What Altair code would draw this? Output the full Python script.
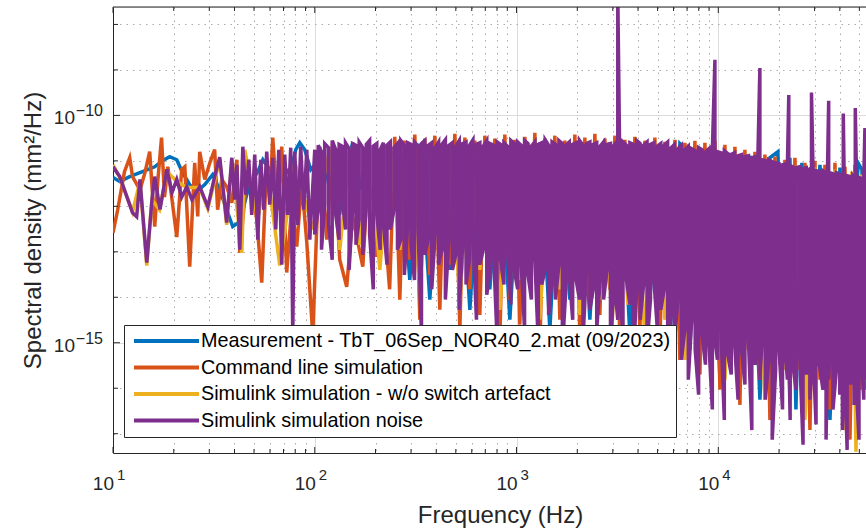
import altair as alt
import pandas as pd

# ---------------------------------------------------------------- series
SERIES = [
    "Measurement - TbT_06Sep_NOR40_2.mat (09/2023)",
    "Command line simulation",
    "Simulink simulation - w/o switch artefact",
    "Simulink simulation noise",
]
COLORS = ["#0072BD", "#D95319", "#EDB120", "#7E2F8E"]

# Measurement (Hz, mm^2/Hz)
BLUE_F = [10, 10.8, 12.1, 14.0, 16.1, 17.6, 19.1, 20.7, 22.0, 24.0,
          26.0, 28.5, 31.2, 33.8, 36.6, 39.2, 42.5, 46.0, 49.3, 52.2,
          55.3, 59.8, 64.8, 69.4, 75.2, 80.5, 84.3, 89.2, 95.5, 102.3,
          108.3, 114.7, 122.8, 133.1, 144.1, 154.3, 167.2, 179.0, 191.7, 205.3,
          219.9, 235.5,
          263.9, 295.8, 331.6, 371.7, 416.7, 467.1, 523.6, 587.0, 657.7, 737.3,
          826.5, 926.5, 1038.5, 1163.9, 1304.7, 1462.5, 1639.5, 1837.8, 2059.8, 2309.0,
          2588.3, 2901.4, 3252.3, 3645.3, 4086.1, 4580.3, 5134.3, 5755.2, 6449.8, 6907,
          7230.8, 7832, 8581.5, 9296, 10185, 11416, 12797, 14344, 16079, 18023,
          19740, 21140, 22646, 24250, 25970, 28455, 31896, 35754, 40078, 44924,
          49220, 51510, 53950, 57730]
BLUE_V = [4.3e-12, 3.5e-12, 4.5e-12, 5.8e-12, 7.4e-12, 1.01e-11, 1.24e-11, 1.06e-11, 5.8e-12, 3.0e-12,
          2.1e-12, 3.0e-12, 5.0e-12, 2.3e-12, 8.4e-13, 3.6e-13, 4.6e-13, 1.8e-12, 3.9e-12, 5.8e-12,
          1.06e-11, 6.4e-12, 3.0e-12, 8.2e-12, 5.0e-12, 1.76e-11, 2.51e-11, 1.76e-11, 6.4e-12, 9.1e-12,
          1.4e-12, 6.4e-12, 1.06e-11, 6.5e-13, 8.2e-12, 2.51e-11, 2.3e-12, 1.06e-11, 2.4e-13, 1.58e-13,
          1.4e-12, 1.06e-11,
          2.27e-11, 2.4e-14, 2.39e-11, 8.9e-15, 2.16e-11, 4.0e-14, 2.51e-11, 5.3e-15, 2.27e-11, 1.5e-14,
          2.39e-11, 3.2e-15, 2.16e-11, 2.4e-14, 2.51e-11, 1.94e-15, 2.27e-11, 8.9e-15, 2.39e-11, 3.2e-15,
          2.16e-11, 1.5e-14, 2.51e-11, 1.5e-15, 2.27e-11, 8.9e-15, 2.05e-11, 1.17e-15, 2.39e-11, 1.76e-11,
          7.0e-16, 1.85e-11, 1.94e-15, 1.59e-11, 1.54e-16, 1.51e-11, 7.0e-16, 1.30e-11, 5.6e-17, 1.17e-11,
          1.59e-11, 2.55e-16, 1.17e-11, 3.4e-17, 9.1e-12, 1.54e-16, 8.2e-12, 2.0e-17, 7.1e-12, 5.6e-17,
          9.1e-12, 6.4e-12, 9.3e-17, 6.4e-12]

# Command line simulation
ORANGE_F = [10, 10.55, 11.4, 12.1, 12.5, 13.6, 14.4, 15.2, 16.1, 16.7,
            17.4, 18.0, 18.7, 20.7, 21.9, 22.7, 24.0, 25.4, 26.3, 26.9,
            28.5, 30.2, 31.9, 33.0, 34.6, 36.6, 38.8, 41.1, 42.5, 46.0,
            49.3, 51.6, 54.6, 57.8, 59.8, 61.9, 65.5, 68.6, 72.6, 76.9,
            81.4, 86.2, 91.3, 97.7, 105.9, 114.7, 122.8, 133, 144, 154,
            173, 187, 203, 217, 235,
            249.2, 263.9, 279.4, 295.8, 313.2, 331.6, 351.1, 371.7, 393.6, 416.7,
            441.2, 467.1, 494.6, 523.6, 554.4, 587.0, 621.4, 657.7, 696.4, 737.3,
            780.6, 826.5, 875.0, 926.5, 980.9, 1038.5, 1099.5, 1163.9, 1232.3, 1304.7,
            1381.4, 1462.5, 1548.5, 1639.5, 1735.8, 1837.8, 1945.7, 2059.8, 2180.9, 2309.0,
            2444.7, 2588.3, 2740.4, 2901.4, 3071.8, 3252.3, 3443.5, 3645.3, 3859.4, 4086.1,
            4326.1, 4580.3, 4849.4, 5134.3, 5436.0, 5755.2, 6093.4, 6449.8, 6829.3, 7230.8,
            7655.7, 8105.3, 8581.5, 9085.6, 9619.5, 10185, 10783, 11416, 12086, 12797,
            13548, 14344, 15187, 16079, 17023, 18023, 19082, 20203, 21390, 22646,
            23976, 25385, 26876, 28455, 30126, 31896, 33770, 35754, 37854, 40078,
            42432, 44924, 47563, 50357, 53315, 56447]
ORANGE_V = [2.6e-13, 8.4e-13, 5.8e-12, 1.17e-11, 4.5e-12, 2.3e-12, 5.5e-12, 1.59e-11, 3.6e-13, 3.9e-12,
            3.24e-11, 1.6e-12, 7.4e-12, 2.1e-13, 6.4e-12, 7.4e-12, 4.7e-14, 9.1e-12, 6.0e-13, 1.59e-11,
            3.9e-12, 9.1e-12, 1.76e-11, 8.4e-13, 3.9e-12, 2.7e-12, 1.2e-12, 1.06e-11, 9.5e-14, 4.5e-12,
            2e-12, 5.1e-13, 2.1e-14, 1.06e-11, 1.4e-12, 3.24e-11, 8.4e-13, 2.05e-11, 3.5e-14, 1e-12,
            1.3e-13, 3.3e-12, 1.6e-13, 1.5e-15, 2.05e-11, 1.85e-13, 2.64e-11, 6.7e-14, 1.7e-14, 6e-13,
            4.7e-14, 1.76e-11, 7.7e-14, 1.4e-12, 1.5e-14,
            3.4e-11, 8.9e-15, 2.78e-11, 6.7e-14, 3.77e-11, 3.2e-15, 3.08e-11, 3.1e-14, 3.58e-11, 5.3e-15,
            2.92e-11, 5.2e-14, 3.95e-11, 1.94e-15, 3.24e-11, 1.5e-14, 2.78e-11, 4.1e-15, 3.58e-11, 4.0e-14,
            3.08e-11, 1.17e-15, 3.77e-11, 8.9e-15, 2.92e-11, 2.5e-15, 3.4e-11, 1.9e-14, 4.16e-11, 7.0e-16,
            3.08e-11, 1.14e-14, 3.58e-11, 3.2e-15, 2.78e-11, 2.4e-14, 3.77e-11, 1.5e-15, 3.24e-11, 8.9e-15,
            3.95e-11, 4.1e-15, 3.08e-11, 1.5e-14, 3.58e-11, 1.17e-15, 2.92e-11, 6.9e-15, 3.4e-11, 1.94e-15,
            2.78e-11, 1.14e-14, 3.24e-11, 9.1e-16, 2.64e-11, 5.3e-15, 2.92e-11, 4.2e-16, 2.51e-11, 1.94e-15,
            2.78e-11, 2.0e-16, 2.51e-11, 1.17e-15, 2.78e-11, 9.3e-17, 2.27e-11, 7.0e-16, 2.05e-11, 4.3e-17,
            1.76e-11, 4.2e-16, 1.59e-11, 1.54e-16, 1.37e-11, 2.0e-17, 1.24e-11, 3.3e-16, 1.06e-11, 5.6e-17,
            1.17e-11, 2.55e-16, 9.1e-12, 1.2e-17, 1.01e-11, 1.54e-16, 8.2e-12, 3.4e-17, 9.1e-12, 2.0e-16,
            7.4e-12, 7.4e-18, 8.2e-12, 9.3e-17, 7.1e-12, 5.6e-17]

# Simulink simulation without the switch artefact
YELLOW_F = [10, 10.8, 12.5, 13.6, 14.7, 15.6, 17.0, 18.5, 20.7, 23.2,
            26.9, 29.5, 33.8, 36.6, 38.8, 43.5, 45.0, 52.2, 57.8, 67.1,
            79.6, 97.7,
            118.7, 133.1, 149.1, 167.2, 187.4, 210.1, 235.5, 263.9, 295.8, 331.6,
            371.7, 416.7, 467.1, 523.6, 587.0, 657.7, 737.3, 826.5, 926.5, 1038.5,
            1163.9, 1304.7, 1462.5, 1639.5, 1837.8, 2059.8, 2309.0, 2588.3, 2740.4, 2969,
            3252.3, 3562, 3859.4, 4326.1, 4849.4, 5436, 6093.4, 6829.3, 7655.7, 8581.5,
            9619.5, 10783, 12086, 13548, 15187, 17023, 19082, 21390, 23976, 26876,
            30126, 33770, 37854, 42432, 45950, 48120, 51510, 55160]
YELLOW_V = [8.2e-12, 4.3e-12, 7.6e-13, 3.5e-12, 5.0e-14, 1.4e-12, 8.4e-13, 5.8e-12, 3.5e-12, 2.6e-12,
            2.6e-12, 8.9e-13, 1.06e-11, 3.9e-13, 1.06e-11, 9.5e-14, 1.76e-11, 5.1e-13, 7.1e-12, 5.0e-14,
            9.6e-12, 3.1e-13,
            1.76e-11, 1.11e-13, 1.95e-11, 1.43e-13, 2.05e-11, 4.0e-14, 2.16e-11, 1.11e-13, 2.27e-11, 1.5e-14,
            2.16e-11, 6.7e-14, 2.27e-11, 8.9e-15, 2.16e-11, 4.0e-14, 2.27e-11, 5.3e-15, 2.16e-11, 2.4e-14,
            2.27e-11, 3.2e-15, 2.16e-11, 1.5e-14, 2.27e-11, 4.1e-15, 2.16e-11, 8.9e-15, 2.05e-11, 1.94e-15,
            2.16e-11, 6.9e-15, 2.05e-11, 1.17e-15, 2.16e-11, 3.2e-15, 1.95e-11, 4.2e-16, 1.76e-11, 9.1e-16,
            1.59e-11, 1.54e-16, 1.37e-11, 7.0e-16, 1.17e-11, 5.6e-17, 9.6e-12, 2.55e-16, 7.8e-12, 2.0e-17,
            7.1e-12, 1.54e-16, 6.4e-12, 1.2e-17, 5.8e-12, 4.0e-18, 5.0e-12, 5.6e-17]

# Simulink simulation noise: sparse low-frequency part ...
PURPLE_LF_F = [10, 10.8, 12.5, 13.1, 13.6, 14.7, 15.6, 16.1, 17.1, 18.5,
               19.6, 20.7, 21.9, 23.2, 24.6, 26.9, 29.5, 31.9, 33.8, 36.6,
               38.8, 40.1, 41.1, 42.5, 44.0, 45.5, 47.1, 48.7, 50.4, 52.2,
               54.0, 55.9, 57.8, 59.8, 61.9, 64.1, 66.3, 68.6, 71.0, 73.5,
               76.0, 77.8, 79.6, 82.4, 85.2, 88.2, 91.3, 94.5]
PURPLE_LF_V = [7.4e-12, 4.5e-12, 7.2e-13, 5.9e-13, 3.9e-12, 5.8e-14, 1.4e-12, 4.5e-12, 8.5e-13, 6.5e-12,
               2e-12, 3.9e-12, 1.6e-12, 2.7e-12, 1.4e-12, 2.7e-12, 9.8e-13, 4.5e-12, 1.2e-11, 4.4e-13,
               1.17e-11, 1.4e-12, 8.2e-12, 1.11e-13, 2.05e-11, 1.8e-12, 1.06e-11, 6.5e-13, 1.37e-11, 1.85e-13,
               1.06e-11, 8.4e-13, 1.59e-11, 1.09e-12, 1.17e-11, 3.1e-13, 1.76e-11, 5.2e-14, 1.37e-11, 6.5e-13,
               1.95e-11, 1.5e-15, 1.59e-11, 3.9e-13, 2.05e-11, 8.4e-13, 1.76e-11, 1.85e-13]

# ... and dense part above 100 Hz, given as max / min per frequency bin
HF_FREQ = [100, 104, 108, 112, 117, 122, 127, 132, 137, 142,
           148, 154, 160, 166, 173, 180, 187, 195, 203, 211,
           219, 228, 237, 247, 257, 267, 278, 289, 300, 312,
           325, 338, 351, 365, 380, 395, 411, 427, 444, 462,
           481, 500, 520, 541, 562, 585, 608, 633, 658, 684,
           712, 740, 770, 801, 833, 866, 901, 937, 974, 1013,
           1054, 1096, 1140, 1185, 1233, 1282, 1333, 1387, 1442, 1500,
           1560, 1622, 1687, 1755, 1825, 1898, 1974, 2053, 2135, 2220,
           2309, 2401, 2497, 2597, 2701, 2809, 2921, 3038, 3110, 3175,
           3240, 3370, 3505, 3645, 3790, 3942, 4100, 4264, 4434, 4612,
           4796, 4988, 5188, 5395, 5611, 5836, 6069, 6312, 6564, 6827,
           7100, 7384, 7680, 7987, 8306, 8638, 8984, 9343, 9620, 9900,
           10300, 10710, 11140, 11590, 12050, 12530, 13030, 13550, 14100, 14660,
           15250, 15700, 16070, 16450, 17100, 17790, 18500, 19240, 20010, 20810,
           21640, 22000, 22350, 22700, 23400, 24300, 25300, 26300, 27300, 28000,
           28450, 28960, 29470, 30500, 31700, 33000, 34200, 34750, 35240, 35750,
           37000, 38500, 40000, 40800, 41200, 41620, 42050, 43500, 45200, 46400,
           47100, 47740, 48400, 49800, 51300, 52600, 53300, 54000, 55500]
PURPLE_MAX = [1.76e-11, 2.2e-11, 1.59e-11, 2.4e-11, 1.95e-11, 2.8e-11, 1.76e-11, 2.3e-11, 2.1e-11, 2.5e-11,
              1.85e-11, 2.4e-11, 2.2e-11, 2.6e-11, 1.95e-11, 2.3e-11, 2.8e-11, 2.1e-11, 2.4e-11, 1.76e-11,
              2.5e-11, 2.2e-11, 2.6e-11, 1.95e-11, 2.4e-11, 2.8e-11, 2.2e-11, 2.5e-11, 2.3e-11, 2.6e-11,
              2.1e-11, 2.4e-11, 2.8e-11, 2.2e-11, 2.5e-11, 1.95e-11, 2.6e-11, 2.3e-11, 2.9e-11, 2.2e-11,
              2.5e-11, 2.1e-11, 2.8e-11, 2.4e-11, 2.6e-11, 2.2e-11, 2.9e-11, 2.3e-11, 2.5e-11, 2.1e-11,
              2.8e-11, 2.4e-11, 2.2e-11, 2.6e-11, 2.3e-11, 2.5e-11, 2.1e-11, 2.8e-11, 2.4e-11, 2.6e-11,
              2.2e-11, 2.8e-11, 2.4e-11, 2.1e-11, 2.6e-11, 2.3e-11, 2.5e-11, 2.9e-11, 2.2e-11, 2.6e-11,
              2.3e-11, 2.8e-11, 2.4e-11, 2.2e-11, 2.6e-11, 2.3e-11, 2.5e-11, 2.8e-11, 2.2e-11, 2.4e-11,
              2.6e-11, 2.3e-11, 2.5e-11, 2.1e-11, 2.6e-11, 2.3e-11, 2.4e-11, 2.2e-11, 2.5e-11, 5e-8,
              2.3e-11, 2.6e-11, 2.2e-11, 2.5e-11, 2.3e-11, 2.8e-11, 2.4e-11, 2.2e-11, 2.6e-11, 2.3e-11,
              2.5e-11, 2.1e-11, 2.4e-11, 2.2e-11, 2.6e-11, 1.95e-11, 2.3e-11, 1.85e-11, 2.2e-11, 1.76e-11,
              2.1e-11, 1.85e-11, 1.67e-11, 1.95e-11, 1.76e-11, 1.59e-11, 1.85e-11, 1.67e-11, 1.68e-9, 1.59e-11,
              1.51e-11, 1.67e-11, 1.44e-11, 1.37e-11, 1.51e-11, 1.30e-11, 1.37e-11, 1.24e-11, 1.30e-11, 1.17e-11,
              1.24e-11, 1.12e-11, 1.1e-9, 1.06e-11, 1.01e-11, 1.06e-11, 9.6e-12, 9.1e-12, 8.7e-12, 8.2e-12,
              8.7e-12, 7.8e-12, 2.8e-10, 7.8e-12, 7.4e-12, 7.1e-12, 7.4e-12, 6.7e-12, 7.1e-12, 6.4e-12,
              6.7e-12, 3.2e-10, 6.4e-12, 6.1e-12, 5.8e-12, 6.1e-12, 5.5e-12, 5.8e-12, 2.1e-10, 5.5e-12,
              5.2e-12, 5.5e-12, 5.0e-12, 5.2e-12, 4.7e-12, 1.1e-10, 5.0e-12, 4.7e-12, 4.5e-12, 4.7e-12,
              4.3e-12, 1.45e-10, 4.5e-12, 4.3e-12, 4.1e-12, 4.3e-12, 5.3e-11, 4.1e-12, 3.9e-12]
PURPLE_MIN = [2.4e-13, 8.4e-13, 1.11e-13, 1.1e-12, 3.9e-13, 6.7e-14, 6.5e-13, 1.85e-13, 1.4e-12, 3.1e-13,
              4.0e-14, 8.4e-13, 1.43e-13, 5.1e-13, 8.6e-14, 1.1e-12, 2.4e-13, 1.5e-14, 6.5e-13, 1.11e-13,
              3.9e-13, 5.2e-14, 3.1e-13, 8.4e-13, 1.11e-13, 1.85e-13, 3.1e-14, 3.9e-13, 1.43e-13, 2.4e-14,
              3.1e-13, 1.5e-15, 8.6e-14, 1.85e-13, 1.5e-14, 2.4e-13, 5.2e-14, 1.11e-13, 8.9e-15, 1.85e-13,
              4.0e-14, 8.6e-14, 5.3e-15, 1.43e-13, 1.9e-14, 6.7e-14, 1.85e-13, 3.2e-15, 5.2e-14, 1.11e-13,
              1.14e-14, 4.0e-14, 8.6e-14, 1.17e-15, 6.7e-14, 1.9e-14, 1.11e-13, 6.9e-15, 4.0e-14, 1.5e-14,
              5.2e-14, 1.94e-15, 3.1e-14, 8.9e-15, 6.7e-14, 9.1e-16, 1.9e-14, 4.0e-14, 4.1e-15, 2.4e-14,
              8.9e-15, 5.2e-14, 7.0e-16, 1.5e-14, 3.1e-14, 3.2e-15, 2.4e-14, 8.9e-15, 1.17e-15, 4.0e-14,
              5.3e-15, 1.5e-14, 1.94e-15, 2.4e-14, 8.9e-15, 4.0e-14, 7.0e-16, 1.9e-14, 8.9e-15, 3.2e-15,
              1.5e-14, 1.5e-15, 2.4e-14, 6.9e-15, 4.2e-16, 1.5e-14, 3.2e-15, 1.9e-14, 9.1e-16, 8.9e-15,
              2.4e-14, 1.94e-15, 5.3e-15, 1.5e-14, 2.55e-16, 4.1e-15, 1.17e-15, 8.9e-15, 4.2e-16, 1.94e-15,
              1.54e-16, 3.2e-15, 7.0e-16, 7.2e-17, 1.5e-15, 3.3e-16, 9.1e-16, 3.4e-17, 1.17e-15, 4.2e-16,
              1.94e-15, 2.0e-17, 5.5e-16, 2.0e-16, 9.1e-16, 5.6e-17, 7.0e-16, 1.2e-16, 1.17e-15, 1.2e-17,
              3.3e-16, 7.0e-16, 1.54e-16, 9.1e-16, 5.6e-17, 4.2e-16, 7.4e-18, 2.55e-16, 7.0e-16, 3.4e-17,
              4.2e-16, 1.54e-16, 7.0e-16, 2.0e-17, 3.3e-16, 9.3e-17, 5.5e-16, 5.7e-18, 2.0e-16, 4.2e-16,
              5.6e-17, 2.55e-16, 7.0e-16, 1.6e-17, 3.3e-16, 9.3e-17, 7.4e-18, 4.2e-16, 1.54e-16, 5.5e-16,
              3.4e-17, 2.55e-16, 7.2e-17, 4.2e-16, 1.2e-17, 2.0e-16, 5.5e-16, 4.4e-18, 1.2e-16, 3.3e-16,
              4.3e-17, 2.55e-16, 9.3e-17, 7.4e-18, 4.2e-16, 5.6e-17, 1.54e-16, 3.3e-16, 2.0e-17]

# ---------------------------------------------------------------- axes
X_MAJOR = [10, 100, 1000, 10000]
X_MINOR = [20, 30, 40, 50, 60, 70, 80, 90,
           200, 300, 400, 500, 600, 700, 800, 900,
           2000, 3000, 4000, 5000, 6000, 7000, 8000, 9000,
           20000, 30000, 40000, 50000]
Y_MAJOR = [1e-15, 1e-10]
Y_MINOR = [1e-17, 1e-16, 1e-14, 1e-13, 1e-12, 1e-11, 1e-9, 1e-8]

X_DOMAIN = [10, 53950]
Y_DOMAIN = [3.76e-18, 2.42e-8]

W, H = 753, 446
INK = "#262626"
FONT = "Liberation Sans"


def frame(name, freqs, values):
    return pd.DataFrame({"series": name, "f": freqs, "v": values,
                         "i": list(range(len(freqs)))})


# the dense noise trace runs up and down through every bin
pf, pv = list(PURPLE_LF_F), list(PURPLE_LF_V)
for k, (f, hi, lo) in enumerate(zip(HF_FREQ, PURPLE_MAX, PURPLE_MIN)):
    pf += [f, f]
    pv += [hi, lo] if k % 2 == 0 else [lo, hi]

traces = [
    frame(SERIES[0], BLUE_F, BLUE_V),
    frame(SERIES[1], ORANGE_F, ORANGE_V),
    frame(SERIES[2], YELLOW_F, YELLOW_V),
    frame(SERIES[3], pf, pv),
]

GRID_MAJOR = "#dcdcdc"
GRID_MINOR = "#ababab"
x_major_test = "indexof([10,100,1000,10000], datum.value) >= 0"
y_major_test = "datum.value == 1e-10 || datum.value == 1e-15"

x_axis = alt.Axis(
    values=sorted(X_MAJOR + X_MINOR), labels=False,
    ticks=False, tickSize=0,
    domainColor=INK, domainWidth=1,
    grid=True, gridWidth=1,
    gridColor={"condition": {"test": x_major_test, "value": GRID_MAJOR}, "value": GRID_MINOR},
    gridDash={"condition": {"test": x_major_test, "value": []}, "value": [1.5, 5]},
    titleFont=FONT, titleFontSize=24, titleFontWeight="normal", titleColor=INK,
    titleX=387, titleY=69, titleAlign="center", titleBaseline="alphabetic",
)
y_axis = alt.Axis(
    values=sorted(Y_MAJOR + Y_MINOR), labels=False,
    ticks=False, tickSize=0,
    domainColor=INK, domainWidth=1,
    grid=True, gridWidth=1,
    gridColor={"condition": {"test": y_major_test, "value": GRID_MAJOR}, "value": GRID_MINOR},
    gridDash={"condition": {"test": y_major_test, "value": []}, "value": [1.5, 5]},
    titleFont=FONT, titleFontSize=24, titleFontWeight="normal", titleColor=INK,
    titleAngle=270, titleX=-80, titleY=H / 2, titleAlign="center", titleBaseline="middle",
)

X = alt.X("f:Q", scale=alt.Scale(type="log", domain=X_DOMAIN, nice=False),
          axis=x_axis, title="Frequency (Hz)")
Y = alt.Y("v:Q", scale=alt.Scale(type="log", domain=Y_DOMAIN, nice=False),
          axis=y_axis, title="Spectral density (mm²/Hz)")
COLOR = alt.Color(
    "series:N",
    scale=alt.Scale(domain=SERIES, range=COLORS),
    legend=alt.Legend(
        title=None, orient="none", legendX=11, legendY=318, direction="vertical",
        strokeColor=INK, fillColor="white", padding=5, cornerRadius=0,
        symbolType="stroke", symbolSize=4225, symbolStrokeWidth=4, symbolOffset=3,
        clipHeight=22, rowPadding=4.5,
        labelFont=FONT, labelFontSize=19.8, labelColor="black", labelOffset=0, labelLimit=0,
    ),
)

lines = [
    alt.Chart(df).mark_line(strokeWidth=3.5, clip=True).encode(
        x=X, y=Y, color=COLOR, order=alt.Order("i:Q"))
    for df in traces
]

# inward tick marks on the frame
xmaj = alt.Chart(pd.DataFrame({"f": X_MAJOR})).mark_rule(color=INK, strokeWidth=1)
xmin = alt.Chart(pd.DataFrame({"f": X_MINOR})).mark_rule(color=INK, strokeWidth=1)
ymaj = alt.Chart(pd.DataFrame({"v": Y_MAJOR})).mark_rule(color=INK, strokeWidth=1)
ymin = alt.Chart(pd.DataFrame({"v": Y_MINOR})).mark_rule(color=INK, strokeWidth=1)
ticks = [
    xmaj.encode(x=X, y=alt.value(H), y2=alt.value(H - 6)),
    xmin.encode(x=X, y=alt.value(H), y2=alt.value(H - 4)),
    xmaj.encode(x=X, y=alt.value(0), y2=alt.value(6)),
    xmin.encode(x=X, y=alt.value(0), y2=alt.value(4)),
    ymaj.encode(y=Y, x=alt.value(0), x2=alt.value(7)),
    ymin.encode(y=Y, x=alt.value(0), x2=alt.value(5)),
]
top_edge = alt.Chart(pd.DataFrame({"f": [10]})).mark_rule(color=INK, strokeWidth=1).encode(
    x=alt.value(0), x2=alt.value(W), y=alt.value(0))

# power-of-ten tick labels: base "10" plus a raised exponent
x_lab = alt.Chart(pd.DataFrame({"f": X_MAJOR})).transform_calculate(
    p="format(round(log(datum.f) / LN10), 'd')")
y_lab = alt.Chart(pd.DataFrame({"v": Y_MAJOR})).transform_calculate(
    p="'\u2212' + format(-round(log(datum.v) / LN10), 'd')")
labels = [
    x_lab.mark_text(font=FONT, fontSize=19, color=INK, align="right",
                    baseline="alphabetic", dx=1).encode(
        x=X, y=alt.value(H + 37), text=alt.value("10")),
    x_lab.mark_text(font=FONT, fontSize=15, color=INK, align="left",
                    baseline="alphabetic", dx=4).encode(
        x=X, y=alt.value(H + 27), text="p:N"),
    y_lab.mark_text(font=FONT, fontSize=19, color=INK, align="right",
                    baseline="alphabetic", dx=-38, dy=9).encode(
        y=Y, x=alt.value(0), text=alt.value("10")),
    y_lab.mark_text(font=FONT, fontSize=16, color=INK, align="right",
                    baseline="alphabetic", dx=-10, dy=1).encode(
        y=Y, x=alt.value(0), text="p:N"),
]

chart = (
    alt.layer(*lines, *ticks, top_edge, *labels)
    .properties(width=W, height=H,
                padding={"left": 113, "top": 7, "right": 0, "bottom": 77},
                autosize=alt.AutoSizeParams(type="none"))
    .configure_view(stroke=None)
    .configure(background="white")
)

chart.save("out.html", embed_options={"renderer": "svg", "actions": False})
